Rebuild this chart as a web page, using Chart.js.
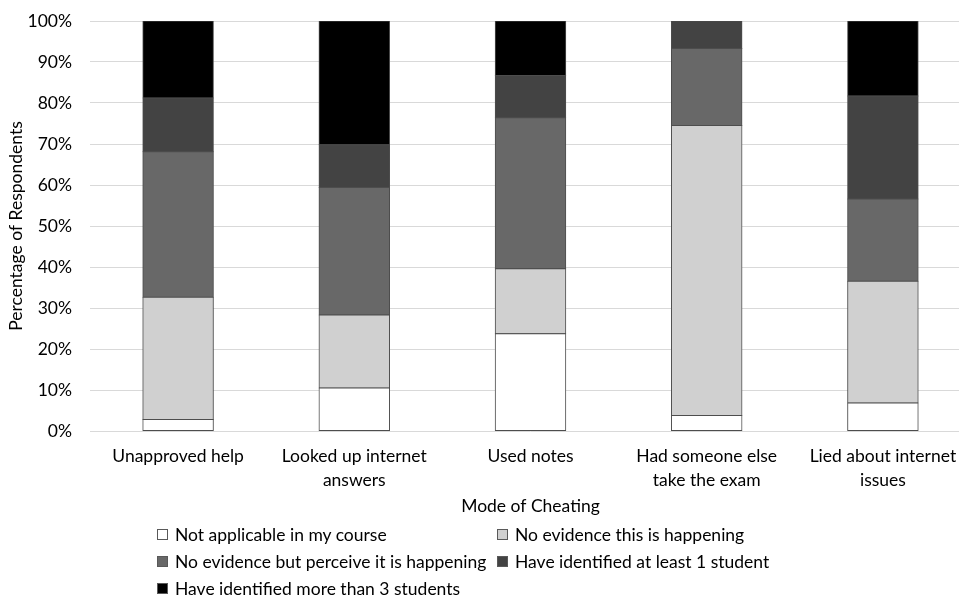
<!DOCTYPE html>
<html>
<head>
<meta charset="utf-8">
<script src="https://cdn.jsdelivr.net/npm/chart.js@4.4.0/dist/chart.umd.min.js"></script>
<style>
  html, body { margin: 0; padding: 0; background: #fff; overflow: hidden; }
  #wrap { position: relative; width: 972px; height: 595px; }
  #legend { position: absolute; left: 0; top: 0; width: 100%; height: 100%; pointer-events: none;
            font-family: Lato, 'Open Sans', sans-serif; font-size: 17.5px; color: #000; }
  .item { position: absolute; display: flex; align-items: center; height: 24px; white-space: nowrap; }
  .box { width: 9px; height: 9px; border: 1px solid #595959; margin-right: 7px; }
</style>
</head>
<body>
<div id="wrap">
  <canvas id="chart"></canvas>
  <div id="legend"></div>
</div>
<script>
const categories = [
    'Unapproved help',
    ['Looked up internet', 'answers'],
    'Used notes',
    ['Had someone else', 'take the exam'],
    ['Lied about internet', 'issues']
];

const seriesNames = [
    'Not applicable in my course',
    'No evidence this is happening',
    'No evidence but perceive it is happening',
    'Have identified at least 1 student',
    'Have identified more than 3 students'
];

// percent of respondents, one value per category
const notApplicable   = [2.8, 10.5, 23.7, 3.8, 6.8];
const noEvidence      = [29.8, 17.8, 15.9, 70.7, 29.7];
const perceive        = [35.5, 31.1, 36.8, 18.8, 20.1];
const atLeastOne      = [13.1, 10.4, 10.3, 6.7, 25.1];
const moreThanThree   = [18.8, 30.2, 13.3, 0, 18.3];

const yTicks = [0, 10, 20, 30, 40, 50, 60, 70, 80, 90, 100];

const fills = ['#ffffff', '#d0d0d0', '#686868', '#434343', '#000000'];
const font = { family: 'Lato', size: 17.5, lineHeight: 1.33 };

const series = [notApplicable, noEvidence, perceive, atLeastOne, moreThanThree];

const datasets = series.map((data, i) => ({
    label: seriesNames[i],
    data: data,
    backgroundColor: fills[i],
    borderColor: '#4d4d4d',
    borderWidth: 1,
    borderSkipped: false,
    inflateAmount: 0.5,
    barPercentage: 0.4,
    categoryPercentage: 1
}));

new Chart(document.getElementById('chart'), {
    type: 'bar',
    data: { labels: categories, datasets: datasets },
    options: {
        responsive: true,
        maintainAspectRatio: false,
        animation: false,
        layout: { padding: { left: 0, right: 1, top: 21, bottom: 74 } },
        plugins: {
            legend: { display: false },
            tooltip: { enabled: false }
        },
        scales: {
            x: {
                stacked: true,
                grid: { display: false, drawTicks: false },
                border: { display: false },
                ticks: { color: '#000', font: font, padding: 14, maxRotation: 0, autoSkip: false },
                title: {
                    display: true,
                    text: 'Mode of Cheating',
                    color: '#000',
                    font: { family: 'Lato', size: 17.5, lineHeight: 1.2 },
                    padding: { top: 0, bottom: 4 }
                },
                afterFit: (scale) => { scale.height = 90; }
            },
            y: {
                stacked: true,
                min: 0,
                max: 100,
                afterBuildTicks: (scale) => { scale.ticks = yTicks.map(v => ({ value: v })); },
                grid: { color: '#d9d9d9', lineWidth: 1, drawTicks: false },
                border: { display: false },
                ticks: { color: '#000', font: font, padding: 18, callback: (v) => v + '%' },
                title: {
                    display: true,
                    text: 'Percentage of Respondents',
                    color: '#000',
                    font: { family: 'Lato', size: 17.5, lineHeight: 1.2 },
                    padding: { top: 6, bottom: 0 }
                },
                afterFit: (scale) => {
                    scale.width = 90;
                    scale.paddingTop = 0;
                    scale.paddingBottom = 0;
                }
            }
        }
    }
});

// legend laid out in two columns like the original
const legendEl = document.getElementById('legend');
const colLeft = [157, 497];
const rowMid = [534, 561, 588];
seriesNames.forEach((name, i) => {
    const item = document.createElement('div');
    item.className = 'item';
    item.style.left = colLeft[i % 2] + 'px';
    item.style.top = (rowMid[Math.floor(i / 2)] - 12) + 'px';
    const box = document.createElement('span');
    box.className = 'box';
    box.style.background = fills[i];
    const txt = document.createElement('span');
    txt.textContent = name;
    item.appendChild(box);
    item.appendChild(txt);
    legendEl.appendChild(item);
});
</script>
</body>
</html>
